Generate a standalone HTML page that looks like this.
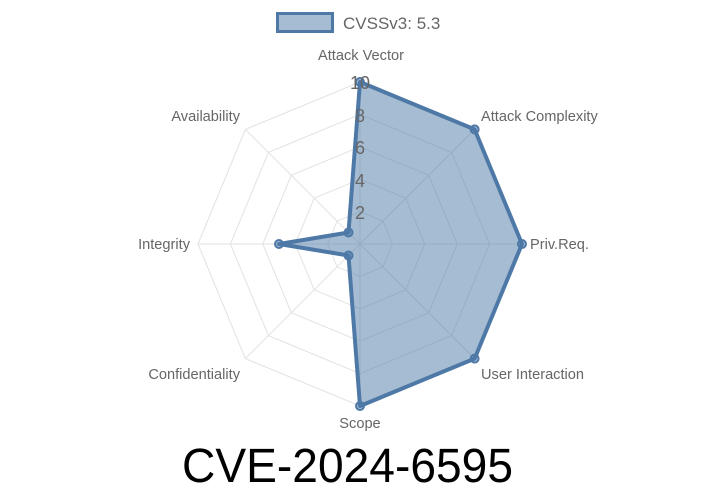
<!DOCTYPE html>
<html><head><meta charset="utf-8"><style>html,body{margin:0;padding:0;background:#fff}svg{display:block}</style></head>
<body>
<svg width="720" height="504" viewBox="0 0 720 504" xmlns="http://www.w3.org/2000/svg">
<g fill="none" stroke="#e2e2e2" stroke-width="1">
<polygon points="360,211.6 382.9,221.1 392.4,244 382.9,266.9 360,276.4 337.1,266.9 327.6,244 337.1,221.1"/>
<polygon points="360,179.2 405.8,198.2 424.8,244 405.8,289.8 360,308.8 314.2,289.8 295.2,244 314.2,198.2"/>
<polygon points="360,146.8 428.7,175.3 457.2,244 428.7,312.7 360,341.2 291.3,312.7 262.8,244 291.3,175.3"/>
<polygon points="360,114.4 451.6,152.4 489.6,244 451.6,335.6 360,373.6 268.4,335.6 230.4,244 268.4,152.4"/>
<polygon points="360,82 474.6,129.4 522,244 474.6,358.6 360,406 245.4,358.6 198,244 245.4,129.4"/>
<line x1="360" y1="244" x2="360" y2="82"/><line x1="360" y1="244" x2="474.6" y2="129.4"/>
<line x1="360" y1="244" x2="522" y2="244"/><line x1="360" y1="244" x2="474.6" y2="358.6"/>
<line x1="360" y1="244" x2="360" y2="406"/><line x1="360" y1="244" x2="245.4" y2="358.6"/>
<line x1="360" y1="244" x2="198" y2="244"/><line x1="360" y1="244" x2="245.4" y2="129.4"/>
</g>
<polygon points="360,82 474.6,129.4 522,244 474.6,358.6 360,406 348.5,255.5 279,244 348.5,232.5" fill="rgba(78,121,167,0.5)" stroke="#4e79a7" stroke-width="4" stroke-linejoin="round"/>
<g fill="rgba(78,121,167,0.5)" stroke="#4e79a7" stroke-width="2">
<circle cx="360" cy="82" r="4"/><circle cx="474.6" cy="129.4" r="4"/><circle cx="522" cy="244" r="4"/><circle cx="474.6" cy="358.6" r="4"/>
<circle cx="360" cy="406" r="4"/><circle cx="348.5" cy="255.5" r="4"/><circle cx="279" cy="244" r="4"/><circle cx="348.5" cy="232.5" r="4"/>
</g>
<g font-family="Liberation Sans, sans-serif" font-size="18" fill="#666" text-anchor="middle">
<text x="360" y="219">2</text><text x="360" y="187">4</text><text x="360" y="154">6</text><text x="360" y="122">8</text><text x="360" y="89">10</text>
</g>
<g font-family="Liberation Sans, sans-serif" font-size="14.6" fill="#666">
<text x="361" y="60" text-anchor="middle">Attack Vector</text>
<text x="481" y="121">Attack Complexity</text>
<text x="530" y="249">Priv.Req.</text>
<text x="481" y="379">User Interaction</text>
<text x="360" y="428" text-anchor="middle">Scope</text>
<text x="240" y="379" text-anchor="end">Confidentiality</text>
<text x="190" y="249" text-anchor="end">Integrity</text>
<text x="240" y="121" text-anchor="end">Availability</text>
</g>
<rect x="277.5" y="13.5" width="55" height="18" fill="rgba(78,121,167,0.5)" stroke="#4e79a7" stroke-width="3"/>
<text x="343" y="29" font-family="Liberation Sans, sans-serif" font-size="17" fill="#666">CVSSv3: 5.3</text>
<text x="182" y="482" font-family="Liberation Sans, sans-serif" font-size="48" fill="#000" textLength="331" lengthAdjust="spacingAndGlyphs">CVE-2024-6595</text>
</svg>
</body></html>
